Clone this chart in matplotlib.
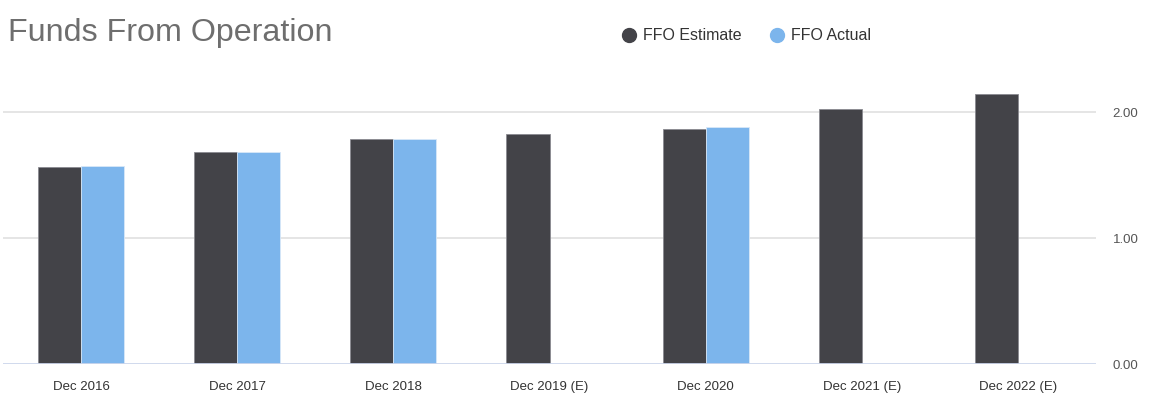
import numpy as np
import matplotlib.pyplot as plt
from matplotlib.lines import Line2D

# data
categories = ['Dec 2016', 'Dec 2017', 'Dec 2018', 'Dec 2019 (E)',
              'Dec 2020', 'Dec 2021 (E)', 'Dec 2022 (E)']
ffo_estimate = [1.566, 1.683, 1.790, 1.825, 1.865, 2.024, 2.143]
ffo_actual = [1.576, 1.683, 1.790, np.nan, 1.886, np.nan, np.nan]
y_ticks = [0.0, 1.0, 2.0]

est_color = '#434348'
act_color = '#7cb5ec'

plt.rcParams['font.family'] = ['Liberation Sans', 'DejaVu Sans']

fig = plt.figure(figsize=(11.54, 4.03), dpi=100)
ax = fig.add_axes([3 / 1154, 1 - 364.3 / 403, 1093 / 1154, 302.4 / 403])

x = np.arange(len(categories))
w = 0.276
ax.bar(x - w / 2, ffo_estimate, w, color=est_color, edgecolor='#8a8a90',
       linewidth=0.6, zorder=3)
ax.bar(x + w / 2, ffo_actual, w, color=act_color, edgecolor='#d8e8f8',
       linewidth=0.6, zorder=3)

ax.set_xlim(-0.5, len(categories) - 0.5)
ax.set_ylim(0, 2.4)
ax.yaxis.tick_right()
ax.set_yticks(y_ticks)
ax.set_yticklabels(['%.2f' % v for v in y_ticks], fontsize=9.5, color='#555555')
ax.set_xticks(x)
ax.set_xticklabels(categories, fontsize=9.5, color='#333333')
ax.tick_params(axis='both', length=0)
ax.tick_params(axis='x', pad=12)
ax.tick_params(axis='y', pad=12)

for v in y_ticks[1:]:
    ax.axhline(v, color='#e0e0e0', linewidth=1.2, zorder=1)
ax.axhline(0, color='#ccd6eb', linewidth=2, zorder=4)

for s in ax.spines.values():
    s.set_visible(False)

fig.text(8 / 1154, 1 - 33 / 403, 'Funds From Operation', fontsize=23.2,
         color='#6e6e6e', va='center', ha='left')

handles = [Line2D([], [], marker='o', linestyle='', markersize=10,
                  markerfacecolor=est_color, markeredgecolor=est_color),
           Line2D([], [], marker='o', linestyle='', markersize=10,
                  markerfacecolor=act_color, markeredgecolor=act_color)]
fig.legend(handles, ['FFO Estimate', 'FFO Actual'], ncol=2, frameon=False,
           loc='center', bbox_to_anchor=(745 / 1154, 1 - 36 / 403),
           fontsize=11.5, handletextpad=0.3, columnspacing=1.6,
           labelcolor='#333333', handlelength=1.2)

fig.savefig('out.png', dpi=100)
